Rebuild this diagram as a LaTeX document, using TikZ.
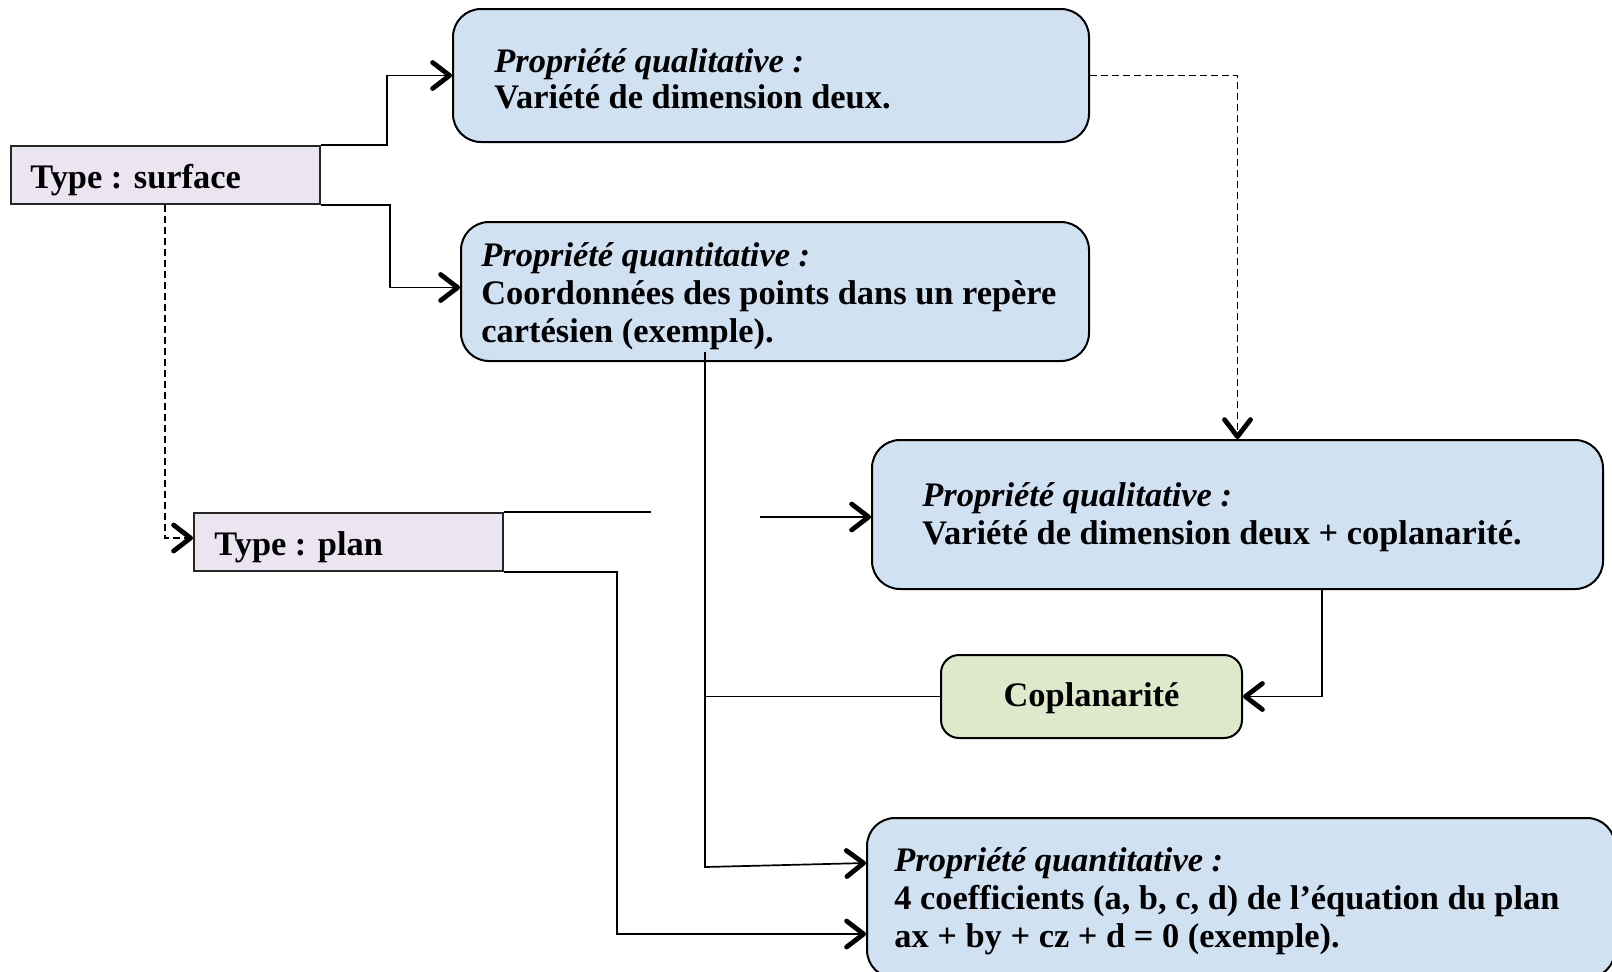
\documentclass[tikz,border=0pt]{standalone}
\usepackage{fontspec}
\setmainfont{Liberation Serif}
\usetikzlibrary{arrows.meta}

\definecolor{boxblue}{RGB}{208,225,242}
\definecolor{boxlav}{RGB}{234,229,241}
\definecolor{boxgreen}{RGB}{222,232,203}

\tikzset{
  propbox/.style={draw=black, line width=1pt, fill=boxblue, rounded corners=14pt,
    anchor=north west, inner sep=0pt},
  typebox/.style={draw=black!85, line width=1pt, fill=boxlav,
    anchor=north west, inner sep=0pt},
  coplbox/.style={draw=black, line width=1pt, fill=boxgreen, rounded corners=9pt,
    anchor=north west, inner sep=0pt},
  label/.style={anchor=west, align=left, inner sep=0pt,
    font=\fontsize{17.2}{19}\selectfont\bfseries},
  conn/.style={line width=0.85pt},
  tip/.style={-{Straight Barb[length=8.5pt,width=13pt,line width=2.4pt,round]}},
  dashconn/.style={conn, dash pattern=on 3.5pt off 2pt},
}

\begin{document}
\begin{tikzpicture}[x=0.5pt,y=-0.5pt]
\useasboundingbox (0,0) rectangle (1612,971);

% type boxes
\node[typebox, minimum width=154.5pt, minimum height=29pt] (surf) at (10,145) {};
\node[label, xshift=10pt, yshift=-2.5pt] (surfT) at (surf.west) {Type : surface};
\node[typebox, minimum width=154.5pt, minimum height=29pt] (plan) at (193,512) {};
\node[label, xshift=10.5pt, yshift=-2.5pt] (planT) at (plan.west) {Type : plan};

% property boxes
\node[propbox, minimum width=318pt, minimum height=66.5pt] (b1) at (452,8) {};
\node[label, xshift=21pt, yshift=-1.5pt] (b1T) at (b1.west)
  {\textit{Propriété qualitative :}\\[-1pt]Variété de dimension deux.};

\node[propbox, minimum width=314pt, minimum height=69.5pt] (b2) at (460,221) {};
\node[label, xshift=10.5pt, yshift=-2.5pt] (b2T) at (b2.west)
  {\textit{Propriété quantitative :}\\Coordonnées des points dans un repère\\cartésien (exemple).};

\node[propbox, minimum width=365.5pt, minimum height=74.5pt] (b3) at (871,439) {};
\node[label, xshift=25.5pt, yshift=-1.5pt] (b3T) at (b3.west)
  {\textit{Propriété qualitative :}\\Variété de dimension deux + coplanarité.};

\node[coplbox, minimum width=150.5pt, minimum height=41.5pt] (copl) at (940,654) {};
\node[label, anchor=center, yshift=-1pt] (coplT) at (copl.center) {Coplanarité};

\node[propbox, minimum width=374pt, minimum height=80pt] (b4) at (866,817) {};
\node[label, xshift=14pt, yshift=-1.5pt] (b4T) at (b4.west)
  {\textit{Propriété quantitative :}\\4 coefficients (a, b, c, d) de l’équation du plan\\ax + by + cz + d = 0 (exemple).};

% free ends and bends of the connectors
\coordinate (gapA) at (651,512);
\coordinate (gapB) at (760,517);
\coordinate (vtop) at (705,352);
\coordinate (vbot) at (705,867);
\coordinate (b4hi) at (866,863);
\coordinate (pbend) at (617,934);

% surface -> properties
\draw[conn,tip] (surf.north east) -- ++(33pt,0) |- (b1.west);
\draw[conn,tip] (surf.south east) -- ++(34.5pt,0) |- ([yshift=2pt]b2.west);
\draw[dashconn,tip] ([xshift=77.5pt]surf.south west) |- ([yshift=2pt]plan.west);

% qualitative property is refined into the plane one
\draw[dashconn,tip] (b1.east) -| (b3.north);

% plan connectors
\draw[conn] (plan.north east) -- (gapA);
\draw[conn,tip] (gapB) -- (b3.west |- gapB);
\draw[conn,tip] (plan.south east) -| (pbend) -- (b4.west |- pbend);

% coordinates -> coefficients, with the coplanarity branch
\draw[conn,tip] (vtop) -- (vbot) -- (b4hi);
\draw[conn] (vbot |- copl.west) -- (copl.west);
\draw[conn,tip] ([xshift=42.25pt]b3.south) |- (copl.east);
\end{tikzpicture}
\end{document}
